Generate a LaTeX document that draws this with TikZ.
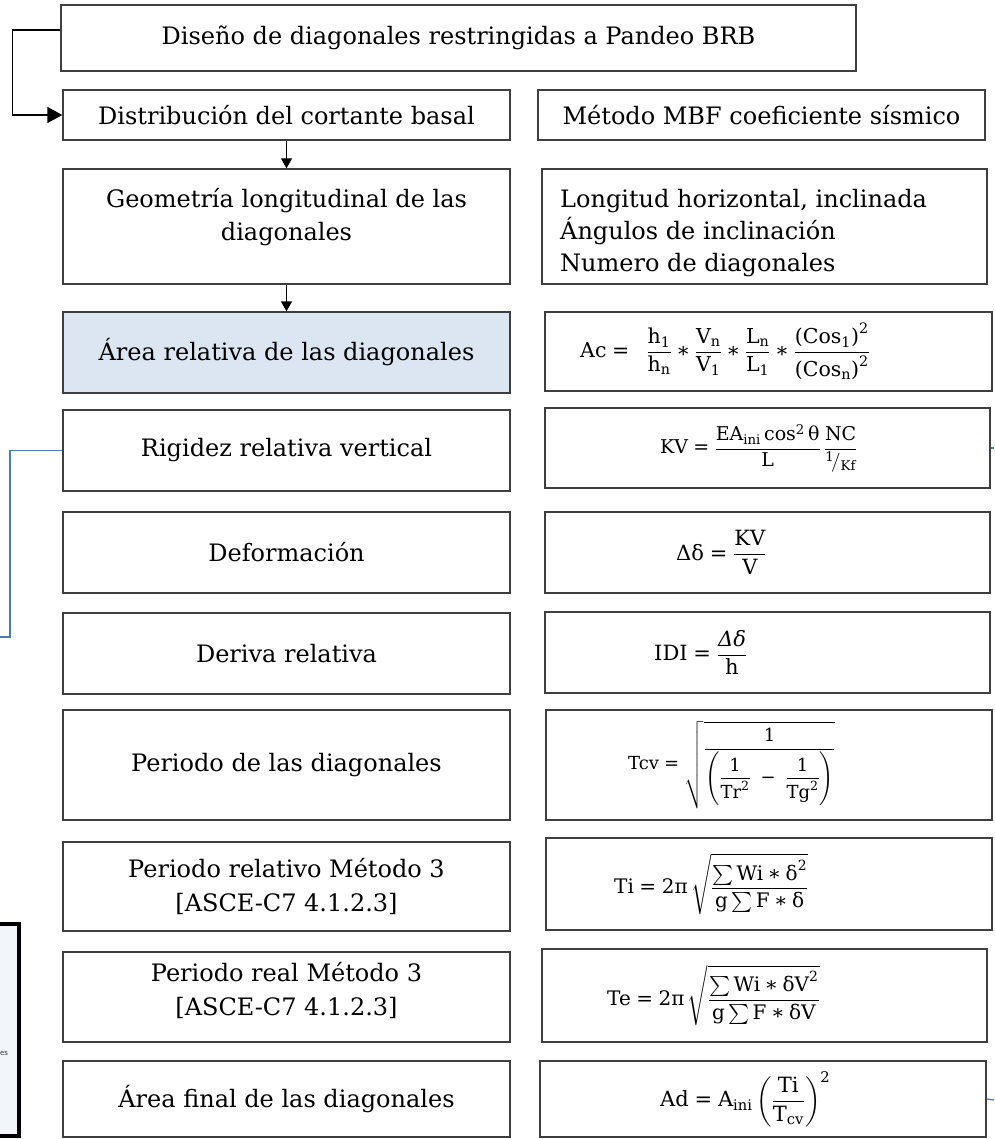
\documentclass[tikz,border=0pt]{standalone}
\usepackage{fontspec}
\usepackage{amsmath}
\setmainfont{DejaVu Serif}
\usetikzlibrary{arrows.meta,calc}

% scalable Computer Modern math fonts at any size
\DeclareFontShape{OML}{cmm}{m}{it}{<->cmmi10}{}
\DeclareFontShape{OMS}{cmsy}{m}{n}{<->cmsy10}{}
\DeclareFontShape{OMX}{cmex}{m}{n}{<->cmex10}{}
\DeclareFontShape{OT1}{cmr}{m}{n}{<->cmr10}{}

% upright formula pieces set in the text font
\newcommand\tx[1]{\text{#1}}
\newcommand\eqsign{\mathrel{\text{=}}}
\newcommand\mulop{\mathbin{\text{∗}}}

\definecolor{boxgray}{HTML}{3F3F3F}
\definecolor{areafill}{HTML}{DCE6F2}
\definecolor{linkblue}{HTML}{4A7EBB}
\definecolor{notefill}{HTML}{F2F5FA}

\begin{document}
\begin{tikzpicture}[x=1pt,y=-1pt,
  box/.style={draw=boxgray, line width=1.3pt, inner sep=0pt, align=center,
              font=\fontsize{24}{34}\selectfont},
  fbox/.style={draw=boxgray, line width=1.3pt, inner sep=0pt},
  eq/.style={inner sep=0pt, anchor=west, font=\fontsize{21}{26}\selectfont},
  flow/.style={line width=1.3pt, -{Triangle[length=10pt,width=11pt]}},
  bigflow/.style={line width=1.3pt, -{Triangle[length=15pt,width=16pt]}},
  link/.style={draw=linkblue, line width=1.3pt}]
\useasboundingbox (0,0) rectangle (994,1139);

% left column: procedure steps
\node[box, minimum width=795pt, minimum height=66pt] (top) at (458.5,38)
  {Diseño de diagonales restringidas a Pandeo BRB};
\node[box, minimum width=447pt, minimum height=50pt] (dist) at (286.5,115)
  {Distribución del cortante basal};
\node[box, minimum width=447pt, minimum height=115pt] (geo) at (286.5,226.5) {};
\node[align=center, inner sep=0pt, font=\fontsize{24}{33}\selectfont] (geotxt) at (286.5,217)
  {Geometría longitudinal de las\\diagonales};
\node[box, fill=areafill, minimum width=447pt, minimum height=81pt] (area) at (286.5,352.5)
  {Área relativa de las diagonales};
\node[box, minimum width=447pt, minimum height=81pt] (rig) at (286.5,450.5)
  {Rigidez relativa vertical};
\node[box, minimum width=447pt, minimum height=81pt] (def) at (286.5,552.5)
  {Deformación};
\node[box, minimum width=447pt, minimum height=81pt] (der) at (286.5,653.5)
  {Deriva relativa};
\node[box, minimum width=447pt, minimum height=110pt] (per) at (286.5,765)
  {Periodo de las diagonales};
\node[box, minimum width=447pt, minimum height=89pt] (prel) at (286.5,886.5)
  {Periodo relativo Método 3\\{}[ASCE-C7 4.1.2.3]};
\node[box, minimum width=447pt, minimum height=90pt] (preal) at (286.5,997) {};
\node[align=center, inner sep=0pt, font=\fontsize{24}{34}\selectfont] (prealtxt) at (286.5,990)
  {Periodo real Método 3\\{}[ASCE-C7 4.1.2.3]};
\node[box, minimum width=447pt, minimum height=76pt] (afin) at (286.5,1099)
  {Área final de las diagonales};

% right column: methods and formulas
\node[box, minimum width=447pt, minimum height=50pt] (mbf) at (761.5,115)
  {Método MBF coeficiente sísmico};
\node[box, minimum width=445pt, minimum height=115pt] (lon) at (764.5,226.5) {};
\node[anchor=west, inner sep=0pt, align=left, font=\fontsize{24}{32}\selectfont] (lontxt)
  at (560,233) {Longitud horizontal, inclinada\\Ángulos de inclinación\\Numero de diagonales};

\node[fbox, minimum width=447pt, minimum height=79pt] (acb) at (768.5,351.5) {};
\node[eq, font=\fontsize{20.5}{25}\selectfont] (acf) at (580,351.5)
  {$\displaystyle \tx{Ac} \eqsign\;\; \frac{\tx{h}_{\tx{1}}}{\tx{h}_{\tx{n}}} \mulop \frac{\tx{V}_{\tx{n}}}{\tx{V}_{\tx{1}}} \mulop \frac{\tx{L}_{\tx{n}}}{\tx{L}_{\tx{1}}} \mulop \frac{\tx{(Cos}_{\tx{1}}\tx{)}^{\tx{2}}}{\tx{(Cos}_{\tx{n}}\tx{)}^{\tx{2}}}$};

\node[fbox, minimum width=445pt, minimum height=80pt] (kvb) at (767.5,448) {};
\node[eq, font=\fontsize{19}{23}\selectfont] (kvf) at (660,448)
  {$\displaystyle \tx{KV} \eqsign \frac{\tx{EA}_{\tx{ini}}\,\tx{cos}^{\tx{2}}\,\tx{θ}}{\tx{L}}\,\frac{\tx{NC}}{{}^{\tx{1}}\!/_{\tx{Kf}}}$};

\node[fbox, minimum width=445pt, minimum height=81pt] (ddb) at (767.5,552.5) {};
\node[eq] (ddf) at (676,552.5)
  {$\displaystyle \tx{Δδ} \eqsign \frac{\tx{KV}}{\tx{V}}$};

\node[fbox, minimum width=445pt, minimum height=81pt] (idib) at (767.5,652.5) {};
\node[eq] (idif) at (654,652.5)
  {$\displaystyle \tx{IDI} \eqsign \frac{\textit{Δδ}}{\tx{h}}$};

\node[fbox, minimum width=446pt, minimum height=110pt] (tcvb) at (769,765) {};
\node[eq, font=\fontsize{18}{22}\selectfont] (tcvf) at (628,765)
  {$\displaystyle \raisebox{-16pt}{$\tx{Tcv} \eqsign$}\ \sqrt{\frac{\tx{1}}{\left(\dfrac{\tx{1}}{\tx{Tr}^{\tx{2}}}\ \mathbin{\tx{−}}\ \dfrac{\tx{1}}{\tx{Tg}^{\tx{2}}}\right)}}$};

\node[fbox, minimum width=446pt, minimum height=92pt] (tib) at (769,884) {};
\node[eq, font=\fontsize{20}{24}\selectfont] (tif) at (614,884)
  {$\displaystyle \tx{Ti} \eqsign \tx{2π}\,\sqrt{\frac{\sum \tx{Wi} \mulop \tx{δ}^{\tx{2}}}{\tx{g}\sum \tx{F} \mulop \tx{δ}}}$};

\node[fbox, minimum width=445pt, minimum height=93pt] (teb) at (764.5,995.5) {};
\node[eq, font=\fontsize{20}{24}\selectfont] (tef) at (607,995.5)
  {$\displaystyle \tx{Te} \eqsign \tx{2π}\,\sqrt{\frac{\sum \tx{Wi} \mulop \tx{δV}^{\tx{2}}}{\tx{g}\sum \tx{F} \mulop \tx{δV}}}$};

\node[fbox, minimum width=446pt, minimum height=76pt] (adb) at (763,1099) {};
\node[eq] (adf) at (660,1099)
  {$\displaystyle \tx{Ad} \eqsign \tx{A}_{\tx{ini}}\left(\frac{\tx{Ti}}{\tx{T}_{\tx{cv}}}\right)^{\tx{2}}$};

% side note box, partly outside the sheet
\node[draw=black, line width=4pt, fill=notefill, minimum width=40pt, minimum height=212pt,
      inner sep=0pt] (note) at (-1,1030) {};
\node[inner sep=0pt, anchor=west, text=black!75, font=\sffamily\fontsize{9}{10}\selectfont]
  (notetxt) at (0,1053) {es};

% flow arrows
\draw[bigflow] ($(top.north west)!0.38!(top.south west)$) -- ++(-48,0) |- (dist.west);
\draw[flow] (dist.south) -- (geo.north);
\draw[flow] (geo.south) -- (area.north);

% blue links
\coordinate (lk1) at (0,637);
\coordinate (lk2) at (994,448);
\coordinate (lk3) at (994,1100);
\draw[link] (rig.west) -- (10,450.5) -- (10,637) -- (lk1);
\draw[link] (kvb.east) -- (lk2);
\draw[link] (adb.east) -- (lk3);
\end{tikzpicture}
\end{document}
